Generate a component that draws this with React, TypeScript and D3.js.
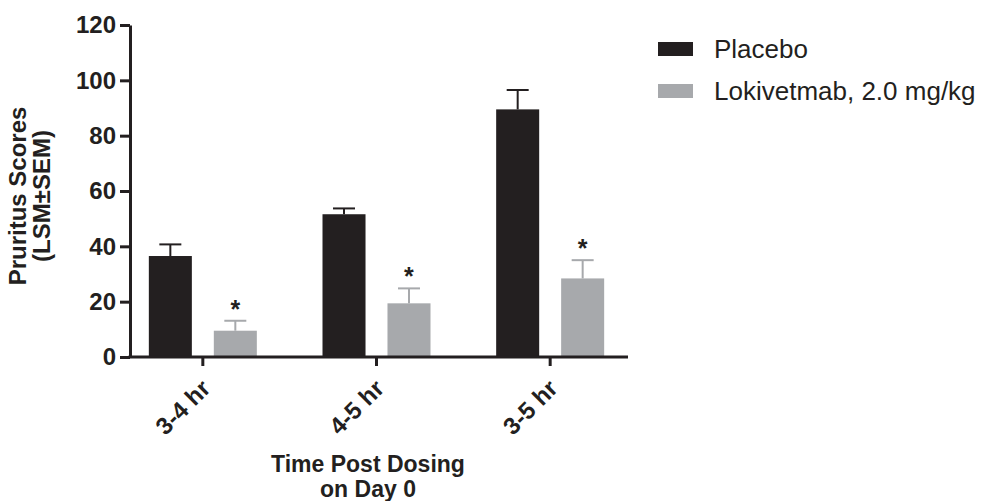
import { useEffect, useRef } from "react";
import * as d3 from "d3";

const groups = ["3-4 hr", "4-5 hr", "3-5 hr"];
const seriesNames = ["Placebo", "Lokivetmab, 2.0 mg/kg"];
const placeboMean = [36.5, 51.6, 89.5];
const placeboSem = [4.2, 2.1, 7.0];
const lokiMean = [9.5, 19.4, 28.4];
const lokiSem = [3.6, 5.4, 6.6];
const significant = [true, true, true];
const yTicks = [0, 20, 40, 60, 80, 100, 120];
const colors = ["#231f20", "#a7a9ac"];

const W = 992;
const H = 501;
const FONT = "'Liberation Sans', Arial, Helvetica, sans-serif";

export default function App() {
  const svgRef = useRef<SVGSVGElement | null>(null);

  useEffect(() => {
    const svg = d3.select(svgRef.current);
    svg.selectAll("*").remove();

    const axisLeft = 130;
    const axisRight = 628;
    const y0 = 357;

    const y = d3.scaleLinear().domain([0, 120]).range([y0, 25]);
    const x0 = d3.scaleBand<string>().domain(groups).range([116, 637]);
    const x1 = d3
      .scaleBand<string>()
      .domain(seriesNames)
      .range([-54, 54])
      .paddingInner(0.338);

    const means = [placeboMean, lokiMean];
    const sems = [placeboSem, lokiSem];

    const rows = groups.flatMap((g, gi) =>
      seriesNames.map((s, si) => ({
        g,
        s,
        si,
        mean: means[si][gi],
        sem: sems[si][gi],
        star: si === 1 && significant[gi],
      }))
    );

    const cx = (d: { g: string; s: string }) =>
      x0(d.g)! + x0.bandwidth() / 2 + x1(d.s)!;

    // bars
    svg
      .append("g")
      .selectAll("rect")
      .data(rows)
      .join("rect")
      .attr("x", (d) => cx(d))
      .attr("y", (d) => y(d.mean))
      .attr("width", x1.bandwidth())
      .attr("height", (d) => y0 - y(d.mean))
      .attr("fill", (d) => colors[d.si]);

    // error bars (upper only)
    const err = svg.append("g").attr("stroke-width", 2);
    rows.forEach((d) => {
      const mx = cx(d) + x1.bandwidth() / 2;
      err
        .append("line")
        .attr("x1", mx)
        .attr("x2", mx)
        .attr("y1", y(d.mean))
        .attr("y2", y(d.mean + d.sem))
        .attr("stroke", colors[d.si]);
      err
        .append("line")
        .attr("x1", mx - 11)
        .attr("x2", mx + 11)
        .attr("y1", y(d.mean + d.sem))
        .attr("y2", y(d.mean + d.sem))
        .attr("stroke", colors[d.si]);
      if (d.star) {
        svg
          .append("text")
          .attr("x", mx)
          .attr("y", y(d.mean + d.sem) - 3)
          .attr("text-anchor", "middle")
          .attr("font-family", FONT)
          .attr("font-weight", "bold")
          .attr("font-size", 25)
          .attr("fill", "#231f20")
          .text("*");
      }
    });

    // y axis
    const gy = svg
      .append("g")
      .attr("transform", `translate(${axisLeft},0)`)
      .call(
        d3
          .axisLeft(y)
          .tickValues(yTicks)
          .tickSize(10)
          .tickSizeOuter(0)
          .tickPadding(4)
      );
    gy.select(".domain").attr("stroke", "#231f20").attr("stroke-width", 3);
    gy.selectAll(".tick line").attr("stroke", "#231f20").attr("stroke-width", 3);
    gy.selectAll(".tick text")
      .attr("font-family", FONT)
      .attr("font-weight", "bold")
      .attr("font-size", 24)
      .attr("fill", "#231f20");

    // x axis
    const gx = svg
      .append("g")
      .attr("transform", `translate(0,${y0})`)
      .call(d3.axisBottom(x0).tickSize(9).tickSizeOuter(0));
    gx.select(".domain").remove();
    gx.append("line")
      .attr("x1", axisLeft - 1.5)
      .attr("x2", axisRight)
      .attr("stroke", "#231f20")
      .attr("stroke-width", 3);
    gx.selectAll(".tick line").attr("stroke", "#231f20").attr("stroke-width", 3);
    gx.selectAll(".tick text")
      .attr("font-family", FONT)
      .attr("font-weight", "bold")
      .attr("font-size", 24)
      .attr("fill", "#231f20")
      .attr("text-anchor", "end")
      .attr("y", 0)
      .attr("dy", 0)
      .attr("transform", "translate(9,33) rotate(-45)");

    // y title
    const yt = svg
      .append("text")
      .attr("transform", "translate(0,196) rotate(-90)")
      .attr("text-anchor", "middle")
      .attr("font-family", FONT)
      .attr("font-weight", "bold")
      .attr("font-size", 24)
      .attr("fill", "#231f20");
    yt.append("tspan").attr("x", 0).attr("y", 26).text("Pruritus Scores");
    yt.append("tspan").attr("x", 0).attr("y", 50).text("(LSM±SEM)");

    // x title
    const xt = svg
      .append("text")
      .attr("text-anchor", "middle")
      .attr("font-family", FONT)
      .attr("font-weight", "bold")
      .attr("font-size", 23)
      .attr("fill", "#231f20");
    xt.append("tspan").attr("x", 368).attr("y", 472).text("Time Post Dosing");
    xt.append("tspan").attr("x", 368).attr("y", 497).text("on Day 0");

    // legend
    const lg = svg
      .append("g")
      .selectAll("g")
      .data(seriesNames)
      .join("g")
      .attr("transform", (_, i) => `translate(658,${49 + i * 42})`);
    lg.append("rect")
      .attr("y", -7)
      .attr("width", 35)
      .attr("height", 14)
      .attr("fill", (_, i) => colors[i]);
    lg.append("text")
      .attr("x", 56)
      .attr("y", 0)
      .attr("dy", "0.35em")
      .attr("font-family", FONT)
      .attr("font-size", 26)
      .attr("fill", "#231f20")
      .text((d) => d);
  }, []);

  return (
    <svg
      ref={svgRef}
      width={W}
      height={H}
      style={{ display: "block", position: "absolute", left: 0, top: 0, background: "#fff" }}
    />
  );
}
